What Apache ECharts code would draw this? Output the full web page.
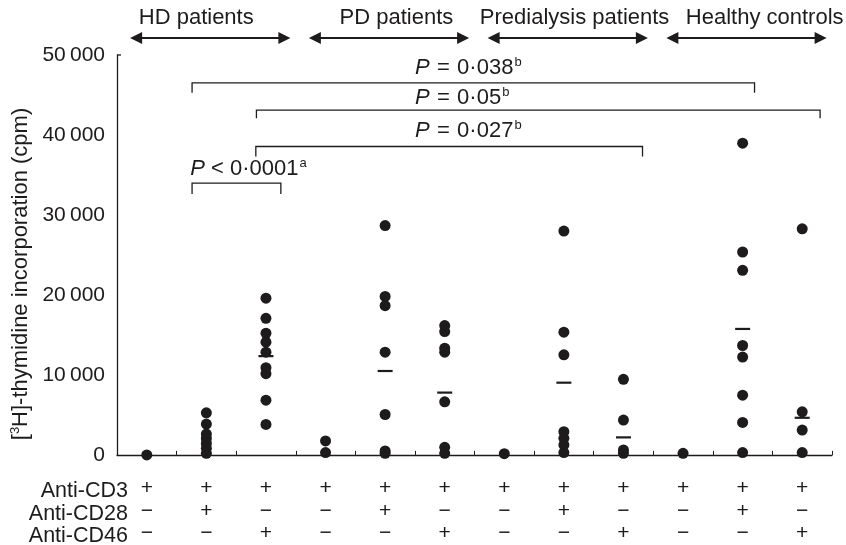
<!DOCTYPE html>
<html>
<head>
<meta charset="utf-8">
<script src="https://cdn.jsdelivr.net/npm/echarts@6/dist/echarts.min.js"></script>
<style>
  html, body { margin: 0; padding: 0; background: #fff; }
  #chart { width: 846px; height: 545px; }
</style>
</head>
<body>
<div id="chart"></div>
<script>
// stimulation table under the axis (one entry per column)
const cd3 = ['+', '+', '+', '+', '+', '+', '+', '+', '+', '+', '+', '+'];
const cd28 = ['−', '+', '−', '−', '+', '−', '−', '+', '−', '−', '+', '−'];
const cd46 = ['−', '−', '+', '−', '−', '+', '−', '−', '+', '−', '−', '+'];
const rowNames = ['Anti-CD3', 'Anti-CD28', 'Anti-CD46'];
const groups = ['HD patients', 'PD patients', 'Predialysis patients', 'Healthy controls'];

// cpm per donor
const hdCd3 = [0];
const hdCd28 = [5260, 3860, 2610, 2060, 1440, 820, 200];
const hdCd46 = [19600, 17080, 15210, 14090, 12850, 10900, 10150, 6840, 3810];
const pdCd3 = [1740, 290];
const pdCd28 = [28680, 19810, 18660, 12850, 5050, 500, 200];
const pdCd46 = [16170, 15420, 13350, 12850, 6630, 950, 200];
const preCd3 = [150];
const preCd28 = [27980, 15340, 12520, 2900, 2070, 1240, 290];
const preCd46 = [9450, 4350, 620, 200];
const ctlCd3 = [200];
const ctlCd28 = [38970, 25370, 23080, 13680, 12230, 7460, 4060, 290];
const ctlCd46 = [28270, 5390, 3110, 290];
const means = [null, null, 12350, null, 10490, 7790, null, 9030, 2190, null, 15750, 4640];

const yTicks = [0, 10000, 20000, 30000, 40000, 50000];

// significance brackets: from/to in column units, height in cpm
const pTexts = ['P\u2004=\u20040·038', 'P\u2004=\u20040·05', 'P\u2004=\u20040·027', 'P < 0·0001'];
const pSups = ['b', 'b', 'b', 'a'];
const brackets = [
  { from: 0.76, to: 10.2, y: 46520, foot: 45270, tx: 4.5, ty: 68 },
  { from: 1.84, to: 11.3, y: 43110, foot: 42080, tx: 4.5, ty: 98 },
  { from: 1.83, to: 8.32, y: 38560, foot: 37310, tx: 4.5, ty: 131 },
  { from: 0.76, to: 2.25, y: 33990, foot: 32620, tx: 0.73, ty: 169 }
];
// header arrow spans and title centres in column units
const groupArrow = { from: -0.28, to: 2.41 };
const groupTitleX = [0.83, 4.19, 7.18, 10.37];

const columns = [hdCd3, hdCd28, hdCd46, pdCd3, pdCd28, pdCd46, preCd3, preCd28, preCd46, ctlCd3, ctlCd28, ctlCd46];
const cats = columns.map((c, i) => 'c' + i);
const points = [];
columns.forEach((col, i) => col.forEach(v => points.push([i, v])));
const meanPts = [];
means.forEach((m, i) => { if (m != null) meanPts.push([i, m]); });

const ink = '#1e1b1c';
const font = 'Liberation Sans, Arial, Helvetica, sans-serif';

const chart = echarts.init(document.getElementById('chart'));
chart.setOption({
  backgroundColor: '#fff',
  animation: false,
  textStyle: { fontFamily: font, color: ink },
  grid: { left: 117, right: 14, top: 55, bottom: 87 },
  xAxis: {
    type: 'category',
    data: cats,
    boundaryGap: true,
    axisLine: { lineStyle: { color: ink, width: 1.3 } },
    axisTick: { show: true, inside: true, length: 4, lineStyle: { color: ink } },
    axisLabel: {
      interval: 0,
      margin: 22,
      fontSize: 21,
      lineHeight: 22.7,
      color: ink,
      fontFamily: font,
      formatter: (v, i) => cd3[i] + '\n' + cd28[i] + '\n' + cd46[i]
    },
    splitLine: { show: false }
  },
  yAxis: {
    type: 'value',
    min: 0,
    max: 50000,
    interval: 10000,
    axisLine: { show: true, lineStyle: { color: ink, width: 1.3 } },
    axisTick: { show: false },
    splitLine: { show: false },
    axisLabel: {
      fontSize: 21,
      margin: 12,
      color: ink,
      fontFamily: font,
      formatter: v => yTicks.includes(v) ? (v === 0 ? '0' : String(v / 1000) + '\u2009000') : ''
    }
  },
  series: [
    {
      type: 'scatter',
      data: points,
      symbol: 'circle',
      symbolSize: 11,
      itemStyle: { color: ink, opacity: 1 },
      silent: true
    },
    {
      type: 'scatter',
      data: meanPts,
      symbol: 'rect',
      symbolSize: [15, 2.2],
      itemStyle: { color: ink, opacity: 1 },
      silent: true
    }
  ]
});

// annotations placed on the axis scale
const p0 = chart.convertToPixel({ xAxisIndex: 0, yAxisIndex: 0 }, [0, 0]);
const p1 = chart.convertToPixel({ xAxisIndex: 0, yAxisIndex: 0 }, [1, 50000]);
const step = p1[0] - p0[0];
const X = i => p0[0] + i * step;
const Y = v => chart.convertToPixel({ yAxisIndex: 0 }, v);

const graphic = [];
const lineStyle = { stroke: ink, lineWidth: 1.3, fill: null };

brackets.forEach((b, k) => {
  graphic.push({
    type: 'polyline',
    shape: { points: [[X(b.from), Y(b.foot)], [X(b.from), Y(b.y)], [X(b.to), Y(b.y)], [X(b.to), Y(b.foot)]] },
    style: lineStyle,
    silent: true
  });
  graphic.push({
    type: 'text',
    x: X(b.tx),
    y: b.ty,
    style: {
      text: '{i|P}{n|' + pTexts[k].slice(1) + '}{s|' + pSups[k] + '}',
      align: 'left',
      verticalAlign: 'middle',
      rich: {
        i: { fontStyle: 'italic', fontSize: 22, fontFamily: font, fill: ink, lineHeight: 24 },
        n: { fontSize: 22, fontFamily: font, fill: ink, lineHeight: 24 },
        s: { fontSize: 13, fontFamily: font, fill: ink, lineHeight: 24, verticalAlign: 'top', padding: [0, 0, 9, 1] }
      }
    },
    silent: true
  });
});

// group headers with double arrows
const arrowY = 38;
groups.forEach((g, k) => {
  const a = X(k * 3 + groupArrow.from);
  const b = X(k * 3 + groupArrow.to);
  graphic.push({ type: 'line', shape: { x1: a + 8, y1: arrowY, x2: b - 8, y2: arrowY }, style: { stroke: ink, lineWidth: 2 }, silent: true });
  graphic.push({ type: 'polygon', shape: { points: [[a, arrowY], [a + 12, arrowY - 6], [a + 12, arrowY + 6]] }, style: { fill: ink }, silent: true });
  graphic.push({ type: 'polygon', shape: { points: [[b, arrowY], [b - 12, arrowY - 6], [b - 12, arrowY + 6]] }, style: { fill: ink }, silent: true });
  graphic.push({
    type: 'text', x: X(groupTitleX[k]), y: 18,
    style: { text: g, align: 'center', verticalAlign: 'middle', fontSize: 22, fontFamily: font, fill: ink },
    silent: true
  });
});

// row names of the stimulation table
rowNames.forEach((r, k) => {
  graphic.push({
    type: 'text', x: 128, y: 491 + k * 22.7,
    style: { text: r, align: 'right', verticalAlign: 'middle', fontSize: 21.5, fontFamily: font, fill: ink },
    silent: true
  });
});

// y-axis title and the little cap at the top of the axis
graphic.push({
  type: 'text', x: 21, y: 274, rotation: Math.PI / 2,
  style: {
    text: '{n|[}{s|3}{n|H]-thymidine incorporation (cpm)}',
    align: 'center', verticalAlign: 'middle',
    rich: {
      n: { fontSize: 22, fontFamily: font, fill: ink, lineHeight: 24 },
      s: { fontSize: 13, fontFamily: font, fill: ink, lineHeight: 24, verticalAlign: 'top', padding: [0, 0, 9, 0] }
    }
  },
  silent: true
});
graphic.push({
  type: 'line',
  shape: { x1: p0[0] - step / 2, y1: Y(50000), x2: p0[0] - step / 2 + 4, y2: Y(50000) },
  style: { stroke: ink, lineWidth: 1.3 },
  silent: true
});

chart.setOption({ graphic: graphic });
window.onresize = () => chart.resize();
</script>
</body>
</html>
